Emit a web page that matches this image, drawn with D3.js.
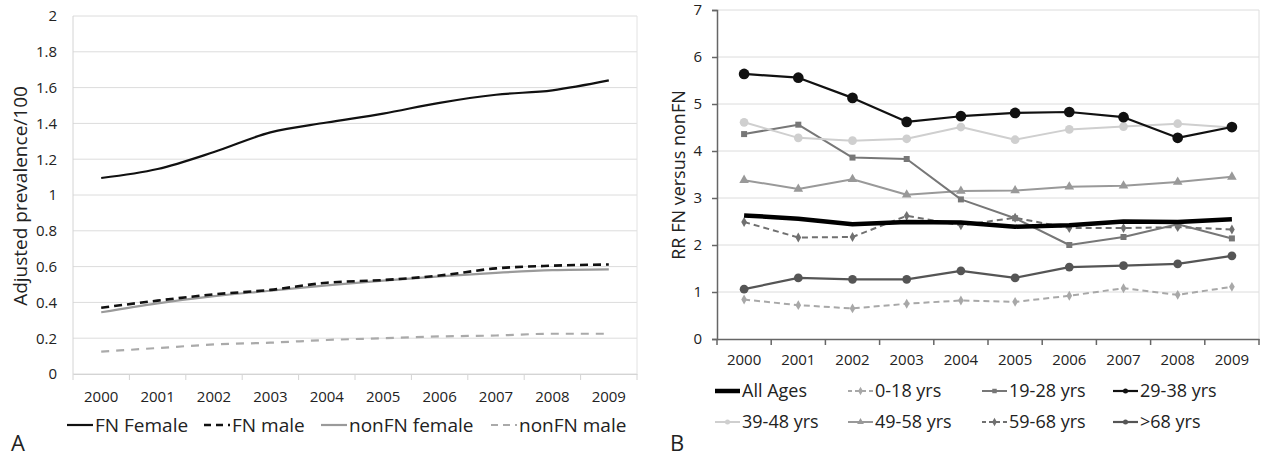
<!DOCTYPE html>
<html lang="en">
<head>
    <meta charset="UTF-8">
    <script src="https://d3js.org/d3.v7.min.js"></script>
    <title>FN vs nonFN prevalence</title>
    <style>
        html, body {
            margin: 0px;
            padding: 0px;
            background-color: #ffffff;
            font-family: "Open Sans", sans-serif;
        }
        svg text { fill: #222; }
    </style>
</head>
<body>
    <div id="chart"></div>
    <script>

        // ---- data ----
        let years = ['2000','2001','2002','2003','2004','2005','2006','2007','2008','2009'];

        // panel A: adjusted prevalence / 100
        let fnFemale    = [1.095, 1.145, 1.24, 1.35, 1.405, 1.455, 1.515, 1.56, 1.585, 1.64];
        let fnMale      = [0.37, 0.41, 0.445, 0.47, 0.51, 0.525, 0.55, 0.59, 0.605, 0.612];
        let nonfnFemale = [0.345, 0.395, 0.435, 0.465, 0.495, 0.522, 0.545, 0.565, 0.58, 0.585];
        let nonfnMale   = [0.125, 0.145, 0.165, 0.175, 0.19, 0.2, 0.21, 0.215, 0.225, 0.225];
        let leftTicks   = [0, 0.2, 0.4, 0.6, 0.8, 1, 1.2, 1.4, 1.6, 1.8, 2];

        // panel B: RR FN versus nonFN
        let allAges  = [2.63, 2.56, 2.44, 2.49, 2.48, 2.39, 2.42, 2.5, 2.49, 2.55];
        let age0_18  = [0.84, 0.72, 0.65, 0.75, 0.82, 0.79, 0.92, 1.08, 0.94, 1.11];
        let age19_28 = [4.36, 4.56, 3.86, 3.83, 2.97, 2.57, 2.0, 2.17, 2.44, 2.14];
        let age29_38 = [5.64, 5.56, 5.13, 4.62, 4.74, 4.81, 4.83, 4.72, 4.28, 4.51];
        let age39_48 = [4.61, 4.28, 4.22, 4.26, 4.51, 4.24, 4.46, 4.52, 4.58, 4.5];
        let age49_58 = [3.38, 3.19, 3.4, 3.07, 3.15, 3.16, 3.24, 3.26, 3.34, 3.45];
        let age59_68 = [2.49, 2.16, 2.17, 2.62, 2.42, 2.58, 2.36, 2.36, 2.38, 2.33];
        let age68up  = [1.06, 1.3, 1.27, 1.27, 1.45, 1.3, 1.53, 1.56, 1.6, 1.77];
        let rightTicks = [0, 1, 2, 3, 4, 5, 6, 7];

        let width = 1266, height = 456;
        let svg = d3.select('#chart').append('svg').attr('width', width).attr('height', height);
        let font = '"Open Sans", sans-serif';

        // ================= panel A =================
        let xA = d3.scaleBand().domain(years).range([73, 637]);
        let yA = d3.scaleLinear().domain([0, 2]).range([374, 16]);

        let gA = svg.append('g');

        gA.selectAll('line.grid')
            .data(leftTicks)
            .join('line')
            .attr('class', 'grid')
            .attr('x1', 73).attr('x2', 637)
            .attr('y1', d => yA(d)).attr('y2', d => yA(d))
            .attr('stroke', '#dcdcdc').attr('stroke-width', 1);

        // frame lines
        gA.append('line').attr('x1', 73).attr('x2', 73).attr('y1', 16).attr('y2', 374)
            .attr('stroke', '#d4d4d4');
        gA.append('line').attr('x1', 637).attr('x2', 637).attr('y1', 16).attr('y2', 374)
            .attr('stroke', '#e2e2e2');

        let axAx = gA.append('g')
            .attr('transform', 'translate(0,374)')
            .call(d3.axisBottom(xA).tickSize(0).tickPadding(17));
        axAx.select('.domain').attr('stroke', '#d4d4d4');
        axAx.selectAll('text').attr('font-size', 15).attr('font-family', font).attr('fill', '#222');
        // category separators
        gA.selectAll('line.sep')
            .data(years.concat(['end']))
            .join('line')
            .attr('class', 'sep')
            .attr('x1', (d, i) => 73 + i * xA.step()).attr('x2', (d, i) => 73 + i * xA.step())
            .attr('y1', 374).attr('y2', 380)
            .attr('stroke', '#d4d4d4');

        let ayA = gA.append('g')
            .attr('transform', 'translate(73,0)')
            .call(d3.axisLeft(yA).tickValues(leftTicks).tickSize(0).tickPadding(16).tickFormat(d3.format('~g')));
        ayA.select('.domain').remove();
        ayA.selectAll('text').attr('font-size', 15).attr('font-family', font).attr('fill', '#222');

        gA.append('text')
            .attr('transform', 'translate(27,196) rotate(-90)')
            .attr('text-anchor', 'middle')
            .attr('font-size', 19)
            .text('Adjusted prevalence/100');

        let seriesA = [
            { name: 'FN Female',     values: fnFemale,    color: '#111', width: 2.2, dash: null },
            { name: 'FN male',       values: fnMale,      color: '#111', width: 2.6, dash: '8,5' },
            { name: 'nonFN female',  values: nonfnFemale, color: '#9a9a9a', width: 2.2, dash: null },
            { name: 'nonFN male',    values: nonfnMale,   color: '#aaaaaa', width: 2.2, dash: '8,7' }
        ];

        let lineA = d3.line()
            .x((d, i) => xA(years[i]) + xA.bandwidth() / 2)
            .y(d => yA(d))
            .curve(d3.curveMonotoneX);

        gA.selectAll('path.series')
            .data(seriesA.slice().reverse())
            .join('path')
            .attr('class', 'series')
            .attr('d', d => lineA(d.values))
            .attr('fill', 'none')
            .attr('stroke', d => d.color)
            .attr('stroke-width', d => d.width)
            .attr('stroke-dasharray', d => d.dash);

        let legA = [67, 204, 321, 491];
        seriesA.forEach((s, i) => {
            let lg = gA.append('g').attr('transform', `translate(${legA[i]},425)`);
            lg.append('line').attr('x1', 0).attr('x2', 26).attr('y1', 0).attr('y2', 0)
                .attr('stroke', s.color).attr('stroke-width', s.width)
                .attr('stroke-dasharray', s.dash ? '7,5' : null);
            lg.append('text').attr('x', 28).attr('y', 0).attr('dy', '0.35em')
                .attr('font-size', 19).text(s.name);
        });

        svg.append('text').attr('x', 11).attr('y', 451).attr('font-size', 22).text('A');

        // ================= panel B =================
        let xB = d3.scaleBand().domain(years).range([717, 1259]);
        let yB = d3.scaleLinear().domain([0, 7]).range([339, 10]);

        let gB = svg.append('g');

        gB.selectAll('line.grid')
            .data(rightTicks.slice(1))
            .join('line')
            .attr('class', 'grid')
            .attr('x1', 717).attr('x2', 1259)
            .attr('y1', d => yB(d)).attr('y2', d => yB(d))
            .attr('stroke', '#dcdcdc').attr('stroke-width', 1);
        gB.append('line').attr('x1', 1259).attr('x2', 1259).attr('y1', 10).attr('y2', 339)
            .attr('stroke', '#dedede');

        let axBx = gB.append('g')
            .attr('transform', 'translate(0,339)')
            .call(d3.axisBottom(xB).tickSize(0).tickPadding(15));
        axBx.select('.domain').attr('stroke', '#666').attr('stroke-width', 1.5);
        axBx.selectAll('text').attr('font-size', 15).attr('font-family', font).attr('fill', '#222');
        gB.selectAll('line.sep')
            .data(years.concat(['end']))
            .join('line')
            .attr('class', 'sep')
            .attr('x1', (d, i) => 717 + i * xB.step()).attr('x2', (d, i) => 717 + i * xB.step())
            .attr('y1', 339).attr('y2', 345)
            .attr('stroke', '#666').attr('stroke-width', 1.5);

        let ayB = gB.append('g')
            .attr('transform', 'translate(717,0)')
            .call(d3.axisLeft(yB).tickValues(rightTicks).tickSize(5).tickPadding(10).tickFormat(d3.format('d')));
        ayB.select('.domain').attr('stroke', '#666').attr('stroke-width', 1.5);
        ayB.selectAll('.tick line').attr('stroke', '#666').attr('stroke-width', 1.5);
        ayB.selectAll('text').attr('font-size', 15).attr('font-family', font).attr('fill', '#222');

        gB.append('text')
            .attr('transform', 'translate(685,175) rotate(-90)')
            .attr('text-anchor', 'middle')
            .attr('font-size', 18)
            .text('RR FN versus nonFN');

        let seriesB = [
            { name: 'All Ages',  values: allAges,  color: '#000',    width: 4.5, dash: null,  marker: 'none' },
            { name: '0-18 yrs',  values: age0_18,  color: '#a8a8a8', width: 2,   dash: '6,4', marker: 'diamond' },
            { name: '19-28 yrs', values: age19_28, color: '#777',    width: 2,   dash: null,  marker: 'square' },
            { name: '29-38 yrs', values: age29_38, color: '#111',    width: 2.2, dash: null,  marker: 'circle' },
            { name: '39-48 yrs', values: age39_48, color: '#cfcfcf', width: 2,   dash: null,  marker: 'circle' },
            { name: '49-58 yrs', values: age49_58, color: '#999',    width: 2,   dash: null,  marker: 'triangle' },
            { name: '59-68 yrs', values: age59_68, color: '#707070', width: 2,   dash: '6,4', marker: 'diamond' },
            { name: '>68 yrs',   values: age68up,  color: '#555',    width: 2.2, dash: null,  marker: 'circle' }
        ];

        let symbolFor = {
            circle:   d3.symbol().type(d3.symbolCircle).size(60),
            square:   d3.symbol().type(d3.symbolSquare).size(36),
            triangle: d3.symbol().type(d3.symbolTriangle).size(40),
            diamond:  d3.symbol().type(d3.symbolDiamond).size(28)
        };

        let lineB = d3.line()
            .x((d, i) => xB(years[i]) + xB.bandwidth() / 2)
            .y(d => yB(d));

        let drawOrder = [1, 6, 7, 5, 2, 4, 3, 0];
        drawOrder.forEach(k => {
            let s = seriesB[k];
            gB.append('path')
                .attr('d', lineB(s.values))
                .attr('fill', 'none')
                .attr('stroke', s.color)
                .attr('stroke-width', s.width)
                .attr('stroke-linejoin', 'round')
                .attr('stroke-dasharray', s.dash);
            if (s.marker !== 'none') {
                let big = (s.name === '29-38 yrs') ? 90 : null;
                gB.selectAll(null)
                    .data(s.values)
                    .join('path')
                    .attr('transform', (d, i) => `translate(${xB(years[i]) + xB.bandwidth() / 2},${yB(d)})`)
                    .attr('d', big ? d3.symbol().type(d3.symbolCircle).size(big)() : symbolFor[s.marker]())
                    .attr('fill', s.color);
            }
        });

        let legCols = [715, 848, 982, 1113];
        let legRows = [391, 422];
        seriesB.forEach((s, i) => {
            let lg = gB.append('g').attr('transform', `translate(${legCols[i % 4]},${legRows[Math.floor(i / 4)]})`);
            lg.append('line').attr('x1', 0).attr('x2', 25).attr('y1', 0).attr('y2', 0)
                .attr('stroke', s.color).attr('stroke-width', s.width)
                .attr('stroke-dasharray', s.dash ? '4,3' : null);
            if (s.marker !== 'none') {
                lg.append('path').attr('transform', 'translate(12.5,0)')
                    .attr('d', symbolFor[s.marker].size(20)())
                    .attr('fill', s.color);
            }
            lg.append('text').attr('x', 27).attr('y', 0).attr('dy', '0.35em')
                .attr('font-size', 18).text(s.name);
        });

        svg.append('text').attr('x', 670).attr('y', 451).attr('font-size', 22).text('B');

    </script>
</body>
</html>
